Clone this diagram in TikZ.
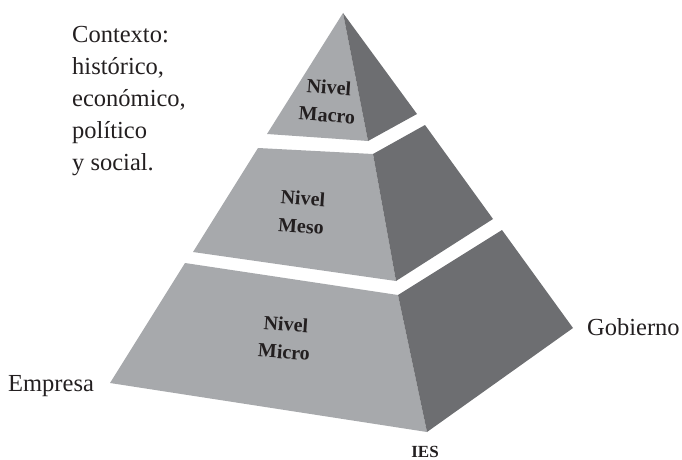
\documentclass[tikz,border=0pt]{standalone}
\usepackage{fontspec}
\setmainfont{Liberation Serif}
\definecolor{facelight}{HTML}{A7A9AC}
\definecolor{facedark}{HTML}{6D6E71}
\definecolor{ink}{HTML}{231F20}
\begin{document}
\begin{tikzpicture}[x=1pt,y=-1pt,
  light/.style={fill=facelight,draw=none},
  dark/.style={fill=facedark,draw=none},
  lvl/.style={font=\fontsize{20}{28}\selectfont\bfseries,text=ink,align=center,rotate=-4,inner sep=0pt},
  side/.style={font=\fontsize{24.5}{32}\selectfont,text=ink,inner sep=0pt},
  ctx/.style={font=\fontsize{24.5}{32}\selectfont,text=ink,align=left,inner sep=0pt,anchor=north west}]
\useasboundingbox (0,0) rectangle (682,460);
% Macro
\coordinate (ap) at (343,13);
\coordinate (mal) at (267,134);
\coordinate (mam) at (368,141);
\coordinate (mar) at (417,114);
\fill[light] (ap) -- (mal) -- (mam) -- cycle;
\fill[dark] (ap) -- (mam) -- (mar) -- cycle;
% Meso
\coordinate (mtl) at (258,148);
\coordinate (mtm) at (373,154);
\coordinate (mtr) at (425,125);
\coordinate (mbl) at (193,252);
\coordinate (mbm) at (396,281);
\coordinate (mbr) at (493,219);
\fill[light] (mtl) -- (mtm) -- (mbm) -- (mbl) -- cycle;
\fill[dark] (mtm) -- (mtr) -- (mbr) -- (mbm) -- cycle;
% Micro
\coordinate (itl) at (185,263);
\coordinate (itm) at (398,295);
\coordinate (itr) at (502,230);
\coordinate (ibl) at (110,383);
\coordinate (ibm) at (427,432);
\coordinate (ibr) at (573,328);
\fill[light] (itl) -- (itm) -- (ibm) -- (ibl) -- cycle;
\fill[dark] (itm) -- (itr) -- (ibr) -- (ibm) -- cycle;
% level labels
\node[lvl] (macro) at (328,101) {Nivel\\Macro};
\node[lvl] (meso) at (302,212) {Nivel\\Meso};
\node[lvl] (micro) at (285,338) {Nivel\\Micro};
% side labels
\node[ctx] (ctx) at (72,26) {Contexto:\\histórico,\\económico,\\político\\y social.};
\node[side,anchor=base west] (emp) at (8,391) {Empresa};
\node[side,anchor=base west] (gob) at (587,335) {Gobierno};
\node[font=\fontsize{17}{20}\selectfont\bfseries,text=ink,inner sep=0pt,anchor=base] (ies) at (425,457) {IES};
\end{tikzpicture}
\end{document}
